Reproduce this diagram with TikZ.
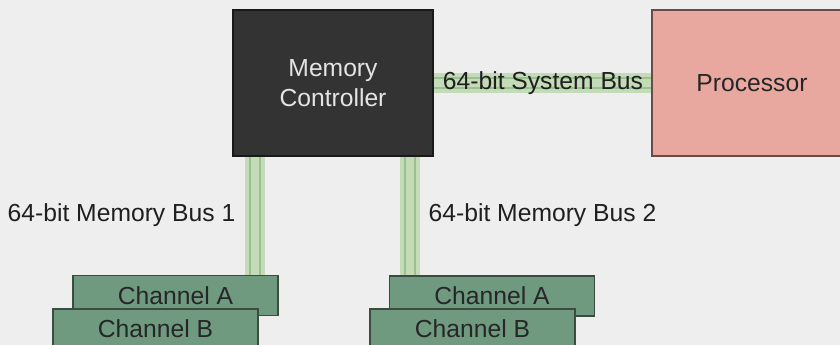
\documentclass[tikz,border=0pt]{standalone}
\usepackage{fontspec}
\setmainfont{Liberation Sans}
\usepackage{tikz}

\definecolor{bgGray}{HTML}{EEEEEE}
\definecolor{ctrlFill}{HTML}{333333}
\definecolor{ctrlText}{HTML}{E4E4E4}
\definecolor{procFill}{HTML}{E8A8A0}
\definecolor{procLine}{HTML}{6A4A46}
\definecolor{chanFill}{HTML}{6F9A80}
\definecolor{chanLine}{HTML}{3C4C40}
\definecolor{busBand}{HTML}{C4DBB8}
\definecolor{busLine}{HTML}{9DBF92}

\pgfdeclarelayer{back}
\pgfdeclarelayer{wires}
\pgfsetlayers{back,wires,main}

\tikzset{
  unit/.style={draw, line width=1pt, inner sep=0pt, align=center,
    minimum width=150pt, minimum height=109.5pt,
    font=\fontsize{18.5}{22.5}\selectfont},
  chanbox/.style={draw=chanLine, fill=chanFill, line width=1pt, inner sep=0pt,
    minimum width=153.75pt, minimum height=30pt, text=black!85,
    font=\fontsize{18.5}{22.5}\selectfont},
  buslabel/.style={inner sep=0.75pt, text=black!88,
    font=\fontsize{18.5}{22.5}\selectfont},
  bus/.style={preaction={draw=busBand, line width=14.5pt},
    draw=busLine, line width=1.2pt, double=busBand, double distance=6pt}
}

\begin{document}
\begin{tikzpicture}[x=0.75pt,y=0.75pt,yscale=-1,xscale=1]
    \useasboundingbox (0,0) rectangle (840,345);
    \clip (0,0) rectangle (840,345);
    \begin{pgfonlayer}{back}
      \fill [bgGray] (0,0) rectangle (840,345);
    \end{pgfonlayer}

    %Shape: Controller and Processor
    \node [unit, draw=black!90, fill=ctrlFill, text=ctrlText] (mc) at (333,83) {Memory\\Controller};
    \node [unit, draw=procLine, fill=procFill, text=black!85] (proc) at (752,83) {Processor};

    %Shape: Channels under bus 1
    \node [chanbox] (chA1) at (175.5,295.5) {Channel A};
    \node [chanbox] (chB1) at (155.5,329) {Channel B};
    %Shape: Channels under bus 2
    \node [chanbox] (chA2) at (492,296) {Channel A};
    \node [chanbox] (chB2) at (472.5,329) {Channel B};

    % Buses, kept under the boxes
    \coordinate (b1) at (255,0);
    \coordinate (b2) at (410,0);
    \begin{pgfonlayer}{wires}
      \draw [bus] (mc.east) -- (proc.west);
      \draw [bus] (mc.south -| b1) -- (chA1.north -| b1);
      \draw [bus] (mc.south -| b2) -- (chA2.north -| b2);
    \end{pgfonlayer}

    % Text Node
    \node [buslabel] (sysLbl) at (543,83) {64-bit System Bus};
    % Text Node
    \node [buslabel] (lbl1) at (121.5,215) {64-bit Memory Bus 1};
    % Text Node
    \node [buslabel] (lbl2) at (542.5,215) {64-bit Memory Bus 2};
\end{tikzpicture}
\end{document}
